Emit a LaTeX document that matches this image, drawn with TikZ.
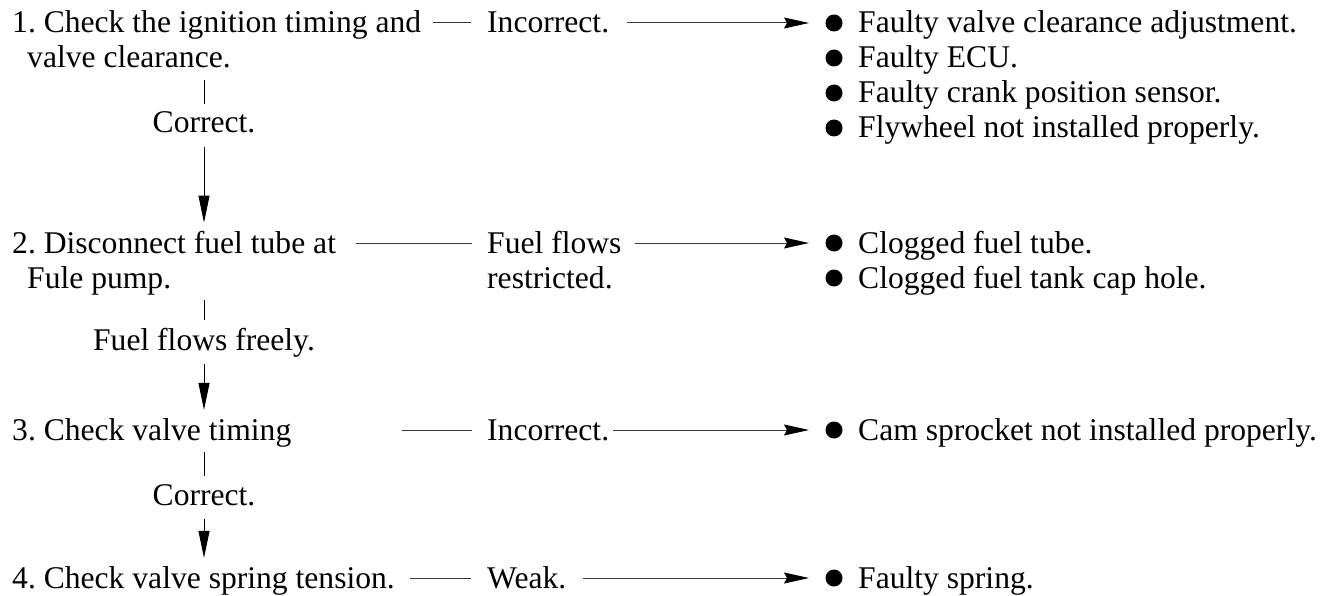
\documentclass[tikz,border=0pt]{standalone}
\usepackage{fontspec}
\setmainfont{Liberation Serif}
\usetikzlibrary{arrows.meta}
\definecolor{rule}{HTML}{3A3A3A}
\frenchspacing

\begin{document}
\begin{tikzpicture}[x=1pt,y=-1pt,
    txt/.style={inner sep=0pt,anchor=base west,font=\fontsize{31.6}{35}\selectfont},
    mid/.style={txt,anchor=base},
    tie/.style={line width=1pt,rule},
    go/.style={tie,-{Stealth[length=25pt,width=11pt,inset=3pt,color=black]}},
    down/.style={line width=0.9pt,-{Triangle[length=27pt,width=11pt]}}]
  \useasboundingbox (0,0) rectangle (1327,596);
  \node[txt] (step1) at (12,33) {1. Check the ignition timing and};
  \node[txt] (step1b) at (27,68) {valve clearance.};
  \node[txt] (step2) at (12,253) {2. Disconnect fuel tube at};
  \node[txt] (step2b) at (27,288) {Fule pump.};
  \node[txt] (step3) at (12,440) {3. Check valve timing};
  \node[txt] (step4) at (12,588) {4. Check valve spring tension.};
  \node[mid] (ok1) at (204,133) {Correct.};
  \node[mid] (ok2) at (204,350) {Fuel flows freely.};
  \node[mid] (ok3) at (204,505) {Correct.};
  \node[txt] (res1) at (487,33) {Incorrect.};
  \node[txt] (res2) at (487,253) {Fuel flows};
  \node[txt] (res2b) at (487,288) {restricted.};
  \node[txt] (res3) at (487,440) {Incorrect.};
  \node[txt] (res4) at (487,588) {Weak.};
  \node[txt] (c1a) at (858,33) {Faulty valve clearance adjustment.};
  \node[txt] (c1b) at (858,68) {Faulty ECU.};
  \node[txt] (c1c) at (858,103) {Faulty crank position sensor.};
  \node[txt] (c1d) at (858,138) {Flywheel not installed properly.};
  \node[txt] (c2a) at (858,253) {Clogged fuel tube.};
  \node[txt] (c2b) at (858,288) {Clogged fuel tank cap hole.};
  \node[txt] (c3) at (858,440) {Cam sprocket not installed properly.};
  \node[txt] (c4) at (858,588) {Faulty spring.};
  \foreach \c in {c1a,c1b,c1c,c1d,c2a,c2b,c3,c4}
    \fill ([shift={(-24,-10)}]\c.base west) circle (8.5);
  \draw[tie] ([shift={(12,-10)}]step1.base east) -- ([shift={(-16,-10)}]res1.base west);
  \draw[tie] ([shift={(20,-10)}]step2.base east) -- ([shift={(-15,-10)}]res2.base west);
  \draw[tie] ([shift={(111,-10)}]step3.base east) -- ([shift={(-15,-10)}]res3.base west);
  \draw[tie] ([shift={(15,-10)}]step4.base east) -- ([shift={(-16,-10)}]res4.base west);
  \draw[go] ([shift={(18,-10)}]res1.base east) -- ([shift={(-49,-10)}]c1a.base west);
  \draw[go] ([shift={(13,-10)}]res2.base east) -- ([shift={(-49,-10)}]c2a.base west);
  \draw[go] ([shift={(4,-10)}]res3.base east) -- ([shift={(-49,-10)}]c3.base west);
  \draw[go] ([shift={(17,-10)}]res4.base east) -- ([shift={(-49,-10)}]c4.base west);
  \draw[line width=0.9pt] ([yshift=-12pt]ok1.base |- step1b.base) -- ([yshift=8pt]ok1.north);
  \draw[line width=0.9pt] ([yshift=-12pt]ok2.base |- step2b.base) -- ([yshift=8pt]ok2.north);
  \draw[line width=0.9pt] ([yshift=-12pt]ok3.base |- step3.base) -- ([yshift=8pt]ok3.north);
  \draw[down] ([yshift=-14pt]ok1.base) -- ([yshift=8pt]ok1.base |- step2.north);
  \draw[down] ([yshift=-14pt]ok2.base) -- ([yshift=8pt]ok2.base |- step3.north);
  \draw[down] ([yshift=-14pt]ok3.base) -- ([yshift=8pt]ok3.base |- step4.north);
\end{tikzpicture}
\end{document}
